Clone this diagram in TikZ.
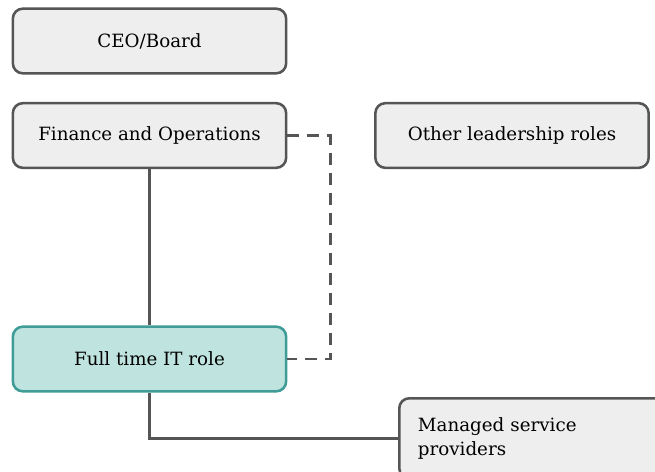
\documentclass[tikz,border=0pt]{standalone}
\usepackage{fontspec}
\setmainfont{DejaVu Serif}
\definecolor{boxgray}{HTML}{EEEEEE}
\definecolor{linegray}{HTML}{555555}
\definecolor{tealfill}{HTML}{BFE4DF}
\definecolor{tealline}{HTML}{3F9C97}
\tikzset{
  rolebox/.style={draw=linegray, fill=boxgray, line width=1.9pt, rounded corners=7.5pt,
    minimum width=205pt, minimum height=48.5pt, font=\fontsize{13.7}{18}\selectfont},
  itbox/.style={rolebox, draw=tealline, fill=tealfill},
  link/.style={draw=linegray, line width=1.9pt},
  dashlink/.style={link, dash pattern=on 9pt off 6pt},
}
\begin{document}
\begin{tikzpicture}[x=0.75pt, y=-0.75pt]
   \clip (0,0) rectangle (655,471);
   % boxes
   \node[rolebox] (ceo)   at (149.5, 41.0) {CEO/Board};
   \node[rolebox] (fin)   at (149.5,135.5) {Finance and Operations};
   \node[rolebox] (other) at (512.0,135.5) {Other leadership roles};
   \node[itbox]   (it)    at (149.5,359.0) {Full time IT role};
   \node[rolebox, anchor=north west, minimum width=0pt, minimum height=60pt,
         text width=220pt, align=left, inner xsep=14pt]
                  (msp)   at (398.0,397.0) {Managed service\\providers};
   % links
   \draw[link] (fin.south) -- (it.north);
   \draw[link] (it.south) |- (msp.west);
   \draw[dashlink] (fin.east) -- ++(43,0) |- (it.east);
\end{tikzpicture}
\end{document}
